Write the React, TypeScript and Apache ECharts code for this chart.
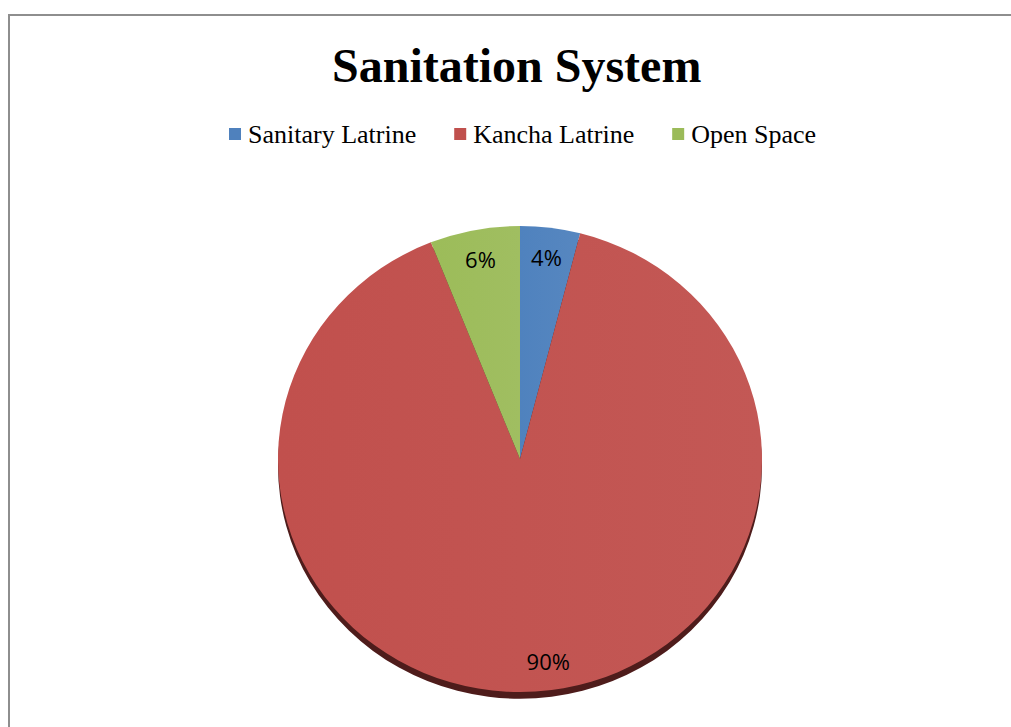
import React, { useEffect, useRef } from "react";
import * as echarts from "echarts";

const categories = ["Sanitary Latrine", "Kancha Latrine", "Open Space"];
const values = [4, 90, 6];
const colors = ["#4F81BD", "#C0504D", "#9BBB59"];
const titleText = "Sanitation System";

export default function App() {
  const ref = useRef<HTMLDivElement>(null);
  const pieRef = useRef<HTMLDivElement>(null);
  useEffect(() => {
    if (!ref.current || !pieRef.current) return;
    const chart = echarts.init(ref.current, undefined, { renderer: "svg" });
    const pie = echarts.init(pieRef.current, undefined, { renderer: "svg" });
    const R = 242;
    const center = [520, 459];
    const data = categories.map((name, i) => ({
      name,
      value: values[i],
      itemStyle: {
        color: new echarts.graphic.LinearGradient(0, 0, 1, 0, [
          { offset: 0, color: echarts.color.lift(colors[i], -0.01) },
          { offset: 1, color: echarts.color.lift(colors[i], 0.05) },
        ]),
      },
    }));
    chart.setOption({
      animation: false,
      backgroundColor: "#ffffff",
      color: colors,
      title: {
        text: titleText,
        left: 327,
        top: 36,
        textStyle: {
          fontFamily: "Liberation Serif",
          fontWeight: "bold",
          fontSize: 48,
          color: "#000",
        },
      },
      legend: {
        data: categories,
        top: 116,
        left: 224,
        icon: "rect",
        itemWidth: 12,
        itemHeight: 12,
        itemGap: 38,
        textStyle: {
          fontFamily: "Liberation Serif",
          fontSize: 26,
          color: "#000",
          padding: [0, 0, 0, 2],
        },
      },
      graphic: [
        {
          type: "rect",
          shape: { x: 9, y: 15, width: 1100, height: 800 },
          style: { fill: "none", stroke: "#8e8e8e", lineWidth: 2 },
          silent: true,
          z: 100,
        },
      ],
      series: [
        {
          type: "pie",
          silent: true,
          center,
          radius: [0, 0],
          label: { show: false },
          labelLine: { show: false },
          data: categories.map((name, i) => ({ name, value: values[i] })),
        },
      ],
    });
    pie.setOption({
      animation: false,
      color: colors,
      series: [
        {
          type: "pie",
          silent: true,
          center: [center[0], center[1] + 7],
          radius: [0, R],
          label: { show: false },
          labelLine: { show: false },
          data: [{ name: "shadow", value: 1, itemStyle: { color: "#4e1c1b" } }],
          z: 1,
        },
        {
          type: "pie",
          center,
          radius: [0, R],
          startAngle: 90,
          clockwise: true,
          label: { show: false },
          labelLine: { show: false },
          itemStyle: { borderWidth: 0 },
          data,
          z: 2,
        },
        {
          type: "pie",
          silent: true,
          center,
          radius: [R * 0.72, R],
          startAngle: 90,
          clockwise: true,
          itemStyle: { color: "transparent", borderWidth: 0 },
          label: {
            show: true,
            position: "inside",
            formatter: "{c}%",
            fontFamily: "Open Sans",
            fontSize: 22,
            color: "#000",
          },
          labelLine: { show: false },
          data: categories.map((name, i) => ({
            name,
            value: values[i],
            label: i === 1 ? { offset: [15, 0] } : undefined,
          })),
          z: 3,
        },
      ],
    });
    return () => {
      chart.dispose();
      pie.dispose();
    };
  }, []);
  return (
    <>
      <div
        ref={ref}
        style={{ position: "fixed", left: 0, top: 0, width: 1011, height: 727 }}
      />
      <div
        ref={pieRef}
        style={{
          position: "fixed",
          left: 0,
          top: 0,
          width: 1011,
          height: 727,
          transform: "scaleY(0.963)",
          transformOrigin: "520px 459px",
        }}
      />
    </>
  );
}
